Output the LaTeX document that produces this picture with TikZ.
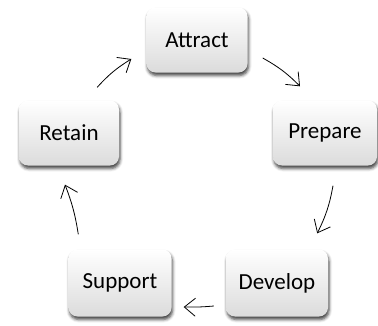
\documentclass[tikz,border=0pt]{standalone}
\usepackage{fontspec}
\setmainfont{Carlito}
\usetikzlibrary{arrows.meta}
\usetikzlibrary{shadows.blur}

\begin{document}
\begin{tikzpicture}[x = 1pt, y = -1pt, font=\fontsize{23}{27}\selectfont]
	\tikzstyle{stageStyle}=[shape = rectangle, rounded corners = 9pt, minimum width = 101pt, minimum height = 65pt, top color = white, bottom color = black!14, blur shadow = {shadow xshift = 1pt, shadow yshift = -3pt, shadow opacity = 75, shadow blur radius = 3pt}]
	\tikzstyle{cycleStyle}=[line width = 0.8pt, -{Straight Barb[length = 11pt, width = 18pt, line width = 0.8pt]}]
	\useasboundingbox (0,0) rectangle (378,325);
	\node[stageStyle] (attract) at (197,40) {Attract};
	\node[stageStyle, minimum width = 104pt] (prepare) at (325,133) {Prepare};
	\node[stageStyle, minimum width = 100pt] (retain) at (69,133) {Retain};
	\node[stageStyle, minimum width = 103pt, minimum height = 67pt] (support) at (120,283) {Support};
	\node[stageStyle, minimum width = 102pt, minimum height = 67pt] (develop) at (277,283) {Develop};
	\draw[cycleStyle] ([shift = {(15,18)}]attract.east) to[bend left = 8] ([shift = {(-25,-14)}]prepare.north);
	\draw[cycleStyle] ([shift = {(8,20)}]prepare.south) to[bend left = 8] ([shift = {(-11,-16)}]develop.north east);
	\draw[cycleStyle] ([shift = {(-12,23)}]develop.west) to[bend left = 3] ([shift = {(12,24)}]support.east);
	\draw[cycleStyle] ([shift = {(10,-15)}]support.north west) to[bend right = 6] ([shift = {(-4,19)}]retain.south);
	\draw[cycleStyle] ([shift = {(-22,-13)}]retain.north east) to[bend left = 8] ([shift = {(-15,19)}]attract.west);
\end{tikzpicture}
\end{document}
